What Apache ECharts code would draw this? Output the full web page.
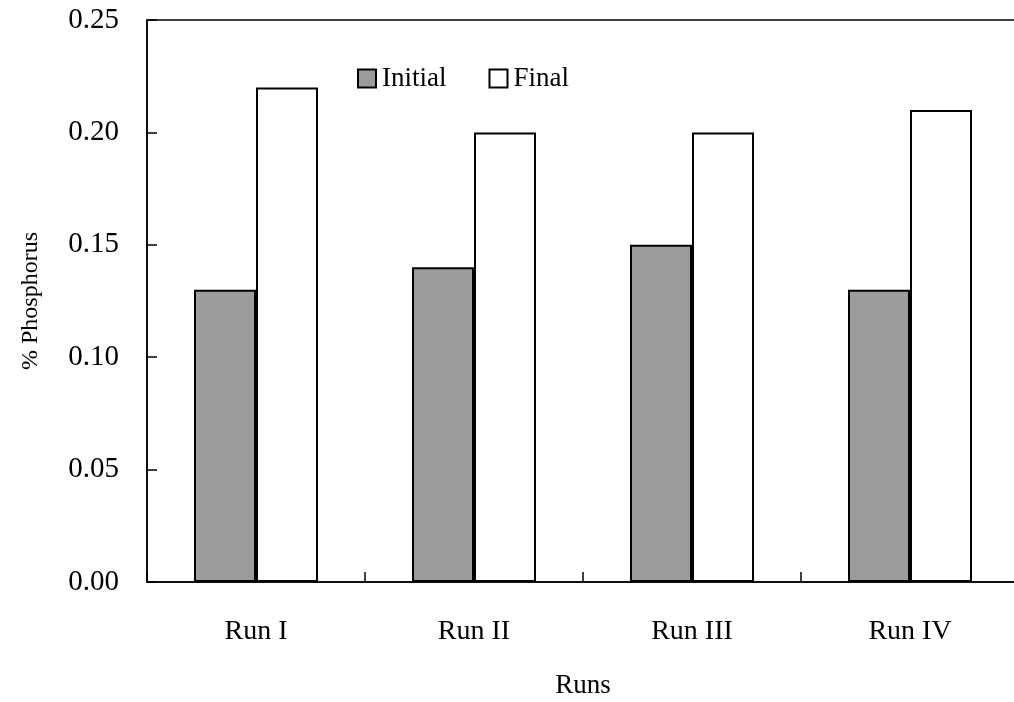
<!DOCTYPE html>
<html>
<head>
<meta charset="utf-8">
<script src="https://cdn.jsdelivr.net/npm/echarts@6/dist/echarts.min.js"></script>
<style>
  html, body { margin: 0; padding: 0; background: #fff; }
  #chart { width: 1014px; height: 702px; }
</style>
</head>
<body>
<div id="chart"></div>
<script>
// Phosphorus content before and after each run
const runs = ['Run I', 'Run II', 'Run III', 'Run IV'];
const initialP = [0.13, 0.14, 0.15, 0.13];
const finalP = [0.22, 0.20, 0.20, 0.21];
const yTicks = { min: 0, max: 0.25, interval: 0.05 };

const serif = '"Liberation Serif", "Times New Roman", serif';
const chart = echarts.init(document.getElementById('chart'));

chart.setOption({
  animation: false,
  backgroundColor: '#fff',
  textStyle: { fontFamily: serif, color: '#000' },
  grid: {
    left: 147, top: 20, width: 872, height: 562,
    outerBoundsMode: 'none', containLabel: false,
    show: true, borderColor: '#000', borderWidth: 1.5, backgroundColor: 'transparent'
  },
  legend: {
    top: 60, left: 352,
    itemWidth: 18, itemHeight: 18, itemGap: 42,
    icon: 'rect',
    textStyle: { fontFamily: serif, fontSize: 27, color: '#000', padding: [0, 0, 0, 1] },
    data: ['Initial', 'Final']
  },
  xAxis: {
    type: 'category',
    data: runs,
    name: 'Runs',
    nameLocation: 'middle',
    nameGap: 90,
    nameTextStyle: { fontFamily: serif, fontSize: 27, color: '#000' },
    axisLine: { lineStyle: { color: '#000', width: 1.5 } },
    axisTick: { show: true, inside: true, length: 10, lineStyle: { color: '#000', width: 1.5 } },
    axisLabel: { fontFamily: serif, fontSize: 28, color: '#000', margin: 36 }
  },
  yAxis: {
    type: 'value',
    min: yTicks.min, max: yTicks.max, interval: yTicks.interval,
    name: '% Phosphorus',
    nameLocation: 'middle',
    nameGap: 104,
    nameTextStyle: { fontFamily: serif, fontSize: 24, color: '#000' },
    axisLine: { show: true, lineStyle: { color: '#000', width: 1.5 } },
    axisTick: { show: true, inside: true, length: 10, lineStyle: { color: '#000', width: 1.5 } },
    splitLine: { show: false },
    axisLabel: {
      fontFamily: serif, fontSize: 29, color: '#000', margin: 28,
      formatter: v => v.toFixed(2)
    }
  },
  series: [
    {
      name: 'Initial', type: 'bar', data: initialP,
      barWidth: 62, barGap: '0%',
      itemStyle: { color: '#9c9c9c', borderColor: '#000', borderWidth: 2 }
    },
    {
      name: 'Final', type: 'bar', data: finalP,
      barWidth: 62, barGap: '0%',
      itemStyle: { color: '#fff', borderColor: '#000', borderWidth: 2 }
    }
  ]
});
</script>
</body>
</html>
